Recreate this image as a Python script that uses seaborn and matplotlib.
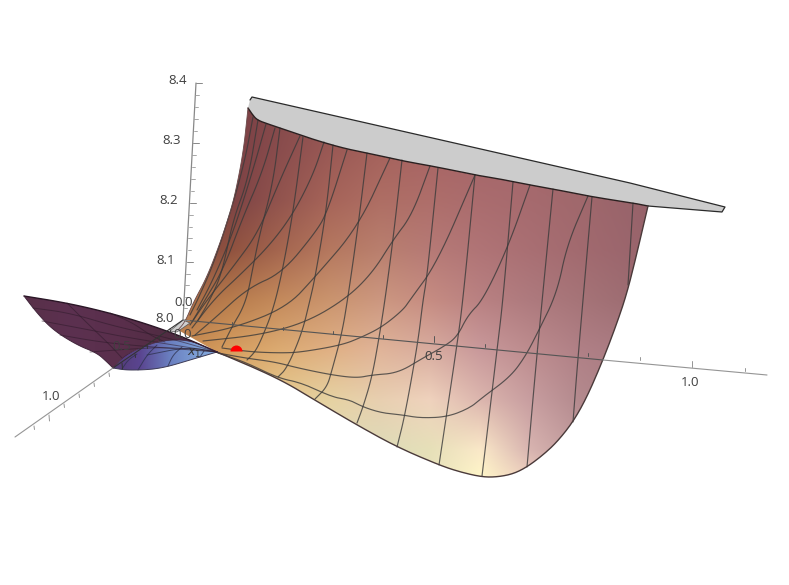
import numpy as np
import pandas as pd
import matplotlib
matplotlib.use("Agg")
import matplotlib.pyplot as plt
from matplotlib.colors import to_rgb
from matplotlib.patches import Polygon, Wedge
import seaborn as sns

sns.set_theme(style="white")
plt.rcParams['font.family'] = ['Open Sans', 'DejaVu Sans']

# ---- values (projected picture coordinates) ----
top_edge = [(248,108),(252,114),(257,120),(268,124),(280,128),(303,136),(325,143),(347,149),(367,153),(403,161),(437,167),(475,175),(500,179),(530,185),(553,189),(593,197),(633,203),(648,206)]
right_edge = [(648,206),(643,227),(637,253),(627,293),(617,323),(603,360),(587,397),(573,422),(557,442),(543,455),(527,467),(513,474),(497,477),(482,477),(460,472),(439,465),(397,447),(357,425),(318,402),(278,378),(217,352)]
left_edge = [(178,330),(185,322),(193,303),(207,277),(220,243),(227,222),(233,203),(240,170),(244,145),(246,127),(248,108)]
grey_back = [(250,100),(252,97),(450,142),(630,183),(725,207),(722,212),(648,206)]
grey_origin = [(183,320),(170,331),(177,332),(190,323)]

wing_top = [(24,296),(67,303),(110,313),(150,325),(183,337),(217,352)]
wing_low = [(217,352),(190,340),(165,340),(147,345),(125,355),(113,368)]
wing_back = [(113,368),(107,362),(97,353),(77,345),(53,330),(37,313),(24,296)]
under_poly = [(113,368),(125,370),(140,370),(155,369),(170,366),(190,360),(217,352),(190,340),(165,340),(147,345),(125,355)]

grid_x = [180,230,280,330,380,430,480,530,580,650]
grid_y = [100,150,200,250,300,350,400,450,480]
colors_100 = ["#70383f","#7a3f45","#84494b","#8f5353","#9a5b58","#a2605c","#a5636a","#a5646a","#a0666c","#96626a"]
colors_150 = ["#70383f","#7a3f44","#8a4d4d","#9a5955","#a5625c","#a86464","#a56568","#a5666a","#a0666a","#96626a"]
colors_200 = ["#753c40","#7c4244","#92544e","#a66459","#ae6e64","#ae6e6a","#aa6c6e","#a66a6e","#a0686c","#96626a"]
colors_250 = ["#7c4242","#90523f","#a5664f","#b5785f","#b97f6e","#b67a76","#b07476","#a96f73","#a26a6f","#98646c"]
colors_300 = ["#a86b47","#b87c4c","#c48a5c","#ca946e","#cc9780","#c68c82","#b98182","#ae7a7e","#a67478","#9a6a70"]
colors_350 = ["#c88c50","#d69e5f","#dcab72","#e0b084","#e0b499","#d8ac9f","#c9999b","#bd8c8e","#b08086","#a67880"]
colors_400 = ["#d8a860","#e0c080","#e6cc90","#e6d2a2","#e8cfb0","#efd2bd","#dcb6ae","#c89ea0","#b48a8e","#a67c82"]
colors_450 = ["#e0c888","#e6d8a8","#e4dcb0","#e0dcb8","#dedcb8","#e6e0b8","#fae8c8","#d8b4b0","#c09a9c","#a67c82"]
colors_480 = ["#e0d090","#e6dcb0","#e4dcb4","#e0dcb8","#dedcb8","#e8e2bc","#fff8c8","#f0d0c0","#c8a4a4","#a67c82"]
color_rows = [colors_100,colors_150,colors_200,colors_250,colors_300,colors_350,colors_400,colors_450,colors_480]

under_x = [110,140,170,200,220]
under_colors = ["#533a72","#5a4590","#6a7fc0","#7fa2d8","#84a8dc"]
wing_x = [20,70,120,170,220]
wing_colors = ["#583048","#5c3150","#5a2f4c","#502c42","#4a2a3c"]

mesh_a = [
 [(253,117),(245,160),(232,207),(215,260),(200,295),(190,315)],
 [(258,120),(248,180),(233,220),(222,273),(210,300),(197,322)],
 [(280,128),(273,183),(260,233),(253,267),(248,293),(242,310),(233,325),(222,347)],
 [(303,137),(293,213),(282,273),(273,310),(262,338),(255,352),(247,360)],
 [(333,145),(326,213),(315,278),(310,300),(302,333),(287,368),(278,377)],
 [(367,153),(358,227),(348,297),(342,333),(332,370),(327,387),(315,399)],
 [(402,160),(393,240),(385,300),(379,338),(372,377),(363,407),(357,423)],
 [(438,168),(427,277),(423,300),(418,342),(405,415),(397,447)],
 [(475,175),(463,300),(457,345),(439,465)],
 [(513,182),(503,300),(497,350),(482,476)],
 [(553,189),(537,353),(527,467)],
 [(592,197),(578,357),(573,422)],
 [(633,203),(628,285)],
]
mesh_b = [
 [(266,124),(253,170),(233,233),(213,280),(197,310)],
 [(275,128),(262,173),(243,217),(223,270),(205,300),(192,322)],
 [(300,136),(280,180),(258,233),(233,267),(207,300),(190,325)],
 [(324,142),(313,175),(293,214),(270,245),(240,275),(215,298),(192,328)],
 [(347,150),(327,213),(315,233),(282,273),(248,288),(215,318),(195,335)],
 [(390,158),(358,227),(315,277),(287,307),(237,327),(192,336)],
 [(430,166),(412,215),(393,240),(373,272),(347,298),(307,322),(260,335),(203,341)],
 [(475,175),(437,263),(410,300),(403,310),(382,327),(362,337),(342,345),(302,352),(283,353),(252,352),(222,348)],
 [(530,185),(508,247),(483,300),(468,315),(457,337),(443,347),(423,358),(398,373),(372,375),(357,378),(332,375),(298,368),(275,362),(245,358),(218,353)],
 [(588,196),(567,245),(557,293),(538,332),(525,357),(510,377),(483,397),(470,408),(447,417),(420,418),(403,415),(382,413),(363,407),(350,400),(332,397),(302,383),(278,378),(245,362),(218,353)],
]
wing_mesh = [
 [(33,308),(70,313),(117,327),(165,337),(217,352)],
 [(42,321),(90,330),(130,338),(217,352)],
 [(60,335),(100,342),(140,346),(217,352)],
 [(90,352),(130,349),(170,347),(217,352)],
 [(67,303),(87,323),(110,345),(122,358)],
 [(110,313),(133,323),(150,335),(165,342)],
]
under_mesh = [
 [(122,369),(128,360),(137,354)],
 [(138,370),(147,355),(157,345)],
 [(168,366),(173,355),(182,347)],
 [(200,357),(204,351)],
 [(147,355),(187,347),(217,352)],
]

origin = (183,320)
x_axis_end = (767,375)
x_axis_exit = (603,360)
y_axis_end = (15,437)
y_axis_exit = (113,368)
z_axis_end = (196,83)
z_tick_pos = [(183,320),(187,262),(190,203),(193,143),(196,83)]
x_tick_pos = [(232,325),(283,330),(333,334),(383,338),(434,342),(485,347),(537,352),(588,356),(640,360),(692,367),(745,371)]
y_tick_pos = [(170,329),(159,337),(147,345),(135,354),(122,363),(109,373),(94,383),(79,394),(64,404),(49,415),(34,426)]
labels = [("8.0",165,318),("8.1",166,260),("8.2",169,201),("8.3",172,141),("8.4",178,81),
          ("0.0",184,303),("0.0",183,334),("0.5",122,347),("1.0",51,397),("0.5",434,357),("1.0",690,383)]
red_point = (236.5,351.5)

# ---- drawing ----
fig = plt.figure(figsize=(7.89,5.85), dpi=100)
ax = fig.add_axes([0,0,1,1])

def smooth(pts, n=3):
    """Corner cutting: rounds a read polyline, the end points stay."""
    p = np.asarray(pts, float)
    for _ in range(n):
        q = np.empty((2*len(p),2))
        q[0::2] = 0.75*p + 0.25*np.roll(p,-1,0)
        q[1::2] = 0.25*p + 0.75*np.roll(p,-1,0)
        p = np.vstack([p[0], q[:-2], p[-1]])
    return p

def draw(pts, color, lw, zorder, alpha=1.0, round_it=False):
    arr = smooth(pts) if round_it else np.asarray(pts, float)
    df = pd.DataFrame(arr, columns=["px","py"])
    sns.lineplot(data=df, x="px", y="py", sort=False, estimator=None, color=color,
                 linewidth=lw, alpha=alpha, zorder=zorder, ax=ax, legend=False)

def gradient(rgb, extent, poly, zorder):
    im = ax.imshow(rgb, extent=extent, origin="upper", aspect="auto",
                   interpolation="bilinear", zorder=zorder)
    clip = Polygon(poly, closed=True, transform=ax.transData, fill=False, edgecolor="none")
    ax.add_patch(clip)
    im.set_clip_path(clip)

s_top, s_right, s_left = smooth(top_edge), smooth(right_edge), smooth(left_edge)
main_poly = np.vstack([s_top, s_right[1:], s_left[:-1]])
surf_rgb = np.array([[to_rgb(c) for c in row] for row in color_rows])
gx = np.arange(grid_x[0], grid_x[-1]+1)
gy = np.arange(grid_y[0], grid_y[-1]+1)
rows = np.stack([np.stack([np.interp(gx, grid_x, surf_rgb[j,:,k]) for k in range(3)],-1) for j in range(len(grid_y))])
raster = np.stack([np.stack([np.interp(gy, grid_y, rows[:,i,k]) for k in range(3)],-1) for i in range(len(gx))],1)
gradient(raster, (grid_x[0],grid_x[-1],grid_y[-1],grid_y[0]), main_poly, 1)

ax.add_patch(Polygon(np.vstack([np.asarray(grey_back,float), s_top[::-1][1:]]), closed=True, fc="#cccccc", ec="none", zorder=1.5))
ax.add_patch(Polygon(grey_origin, closed=True, fc="#cfcfcf", ec="#555555", lw=0.5, zorder=1.5))
ax.add_patch(Wedge(red_point, 6, 180, 360, fc="#ff0000", ec="none", zorder=3.5))

for line in mesh_a + mesh_b:
    draw(line, "#3a3a3a", 0.85, 3, 0.8, True)
draw(top_edge, "#2a2020", 1.0, 4, 1, True)
draw(grey_back, "#2a2a2a", 0.9, 4)
draw(right_edge, "#4a3a3a", 1.0, 4, 1, True)
draw(left_edge, "#6a4a4a", 0.6, 4, 1, True)

# under-side and dark wing
ux = np.arange(under_x[0], under_x[-1]+1)
urgb = np.stack([np.interp(ux, under_x, [to_rgb(c)[k] for c in under_colors]) for k in range(3)],-1)[None,:,:]
gradient(urgb, (under_x[0],under_x[-1],375,335), under_poly, 5)
for line in under_mesh:
    draw(line, "#2f3350", 0.7, 5.5, 0.8, True)
draw(under_poly[:7], "#3d3a55", 0.7, 5.5, 1, True)

wx = np.arange(wing_x[0], wing_x[-1]+1)
wrgb = np.stack([np.interp(wx, wing_x, [to_rgb(c)[k] for c in wing_colors]) for k in range(3)],-1)[None,:,:]
s_wt, s_wl, s_wb = smooth(wing_top), smooth(wing_low), smooth(wing_back)
gradient(wrgb, (wing_x[0],wing_x[-1],375,290), np.vstack([s_wt, s_wl[1:], s_wb[1:-1]]), 6)
for line in wing_mesh:
    draw(line, "#2e1a2a", 0.7, 6.5, 0.55, True)
draw(wing_top, "#2a1626", 1.0, 7, 1, True)
draw(wing_back, "#40243a", 0.7, 7, 1, True)
draw(wing_low, "#40243a", 0.5, 7, 1, True)

# axes and ticks: darker across the surface, lighter on the white ground
dark_axis, light_axis = "#555555", "#959595"
draw([origin, x_axis_exit], dark_axis, 0.8, 8)
draw([x_axis_exit, x_axis_end], light_axis, 0.8, 8)
draw([origin, y_axis_exit], "#333333", 0.8, 8)
draw([y_axis_exit, y_axis_end], light_axis, 0.8, 8)
draw([origin, z_axis_end], "#888888", 0.9, 8)
for i,(px,py) in enumerate(x_tick_pos):
    h = 6 if i in (4,9) else 3.5
    draw([(px,py),(px,py-h)], dark_axis if px < 603 else light_axis, 0.7, 8)
for i,(px,py) in enumerate(y_tick_pos):
    h = 6 if i in (4,9) else 3.5
    draw([(px,py),(px+0.5,py+h)], "#333333" if px > 113 else light_axis, 0.7, 8)
for j in range(len(z_tick_pos)):
    px,py = z_tick_pos[j]
    draw([(px,py),(px+6,py)], "#888888", 0.7, 8)
    if j < len(z_tick_pos)-1:
        qx,qy = z_tick_pos[j+1]
        for f in (0.2,0.4,0.6,0.8):
            draw([(px+(qx-px)*f,py+(qy-py)*f),(px+(qx-px)*f+3.5,py+(qy-py)*f)], "#999999", 0.6, 8)

for s,px,py in labels:
    ax.text(px,py,s,ha="center",va="center",fontsize=9.5,color="#3f3f3f",zorder=9)
ax.text(194,353,r"$x_1$",ha="center",va="center",fontsize=9,color="#333333",zorder=9,
        math_fontfamily="dejavusans")

ax.set_xlim(0,789)
ax.set_ylim(585,0)
ax.set_xlabel("")
ax.set_ylabel("")
ax.axis("off")
fig.savefig("out.png", dpi=100, facecolor="white")
